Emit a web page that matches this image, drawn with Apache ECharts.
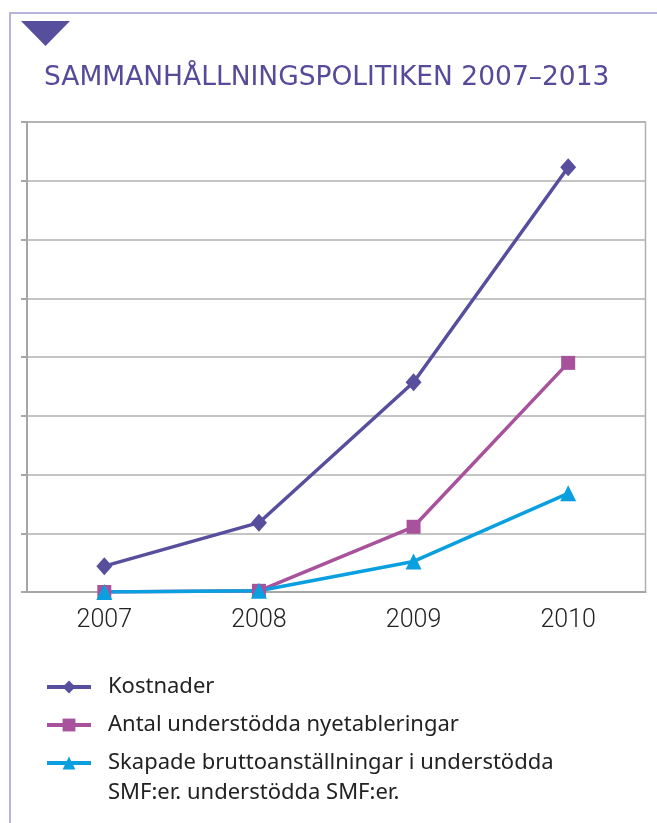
<!DOCTYPE html>
<html>
<head>
<meta charset="utf-8">
<script src="https://cdn.jsdelivr.net/npm/echarts@6/dist/echarts.min.js"></script>
<style>
  html, body { margin: 0; padding: 0; background: #fff; }
  #chart { width: 657px; height: 823px; }
</style>
</head>
<body>
<div id="chart"></div>
<script>
// years on the x axis
var years = ["2007", "2008", "2009", "2010"];
// values (no y labels in the source, scale 0..8)
var kostnader = [0.44, 1.18, 3.57, 7.23];
var nyetableringar = [0.0, 0.02, 1.11, 3.9];
var anstallningar = [0.0, 0.02, 0.52, 1.68];

var names = [
  "Kostnader",
  "Antal understödda nyetableringar",
  // leading blank line keeps the marker level with the first text line
  "\nSkapade bruttoanställningar i understödda\nSMF:er. understödda SMF:er."
];
var colors = ["#574e9d", "#a7529b", "#0aa0e0"];

var chart = echarts.init(document.getElementById("chart"));

function line(name, data, color, symbol, size) {
  return {
    name: name,
    type: "line",
    data: data,
    symbol: symbol,
    symbolSize: size,
    showSymbol: true,
    lineStyle: { color: color, width: 3.5 },
    itemStyle: { color: color },
    emphasis: { disabled: true },
    z: 3
  };
}

// one legend per entry so each row sits where it does in the picture
function legend(name, top) {
  return {
    orient: "vertical",
    left: 45,
    top: top,
    padding: 0,
    itemWidth: 44,
    itemHeight: 16,
    selectedMode: false,
    lineStyle: { width: 4 },
    textStyle: { color: "#222", fontSize: 22, fontFamily: "Noto Sans", lineHeight: 30, padding: [0, 0, 0, 12] },
    data: [name]
  };
}

chart.setOption({
  animation: false,
  textStyle: { fontFamily: "Noto Sans" },
  title: {
    text: "SAMMANHÅLLNINGSPOLITIKEN 2007–2013",
    left: 39,
    top: 60,
    textStyle: {
      color: "#564b9a",
      fontSize: 26.5,
      fontWeight: "normal",
      fontFamily: "DejaVu Sans"
    }
  },
  graphic: [
    // frame lines of the box
    { type: "line", shape: { x1: 10, y1: 12, x2: 10, y2: 823 }, style: { stroke: "#b8b5dc", lineWidth: 2 } },
    { type: "line", shape: { x1: 9, y1: 13, x2: 657, y2: 13 }, style: { stroke: "#b8b5dc", lineWidth: 2 } },
    // the little triangle
    { type: "polygon", shape: { points: [[21, 21], [70, 21], [45.5, 46]] }, style: { fill: "#574e9d" } }
  ],
  grid: {
    left: 27,
    right: 11.5,
    top: 122,
    bottom: 231,
    show: true,
    borderColor: "#b0b0b0",
    borderWidth: 1.5
  },
  legend: [
    legend(names[0], 672),
    legend(names[1], 710),
    legend(names[2], 718)
  ],
  xAxis: {
    type: "category",
    data: years,
    boundaryGap: true,
    axisLine: { lineStyle: { color: "#a6a6a6", width: 2 } },
    axisTick: { show: false },
    axisLabel: {
      color: "#222",
      fontSize: 25,
      fontWeight: 300,
      fontFamily: "Roboto",
      margin: 16
    }
  },
  yAxis: {
    type: "value",
    min: 0,
    max: 8,
    interval: 1,
    axisLine: { show: true, lineStyle: { color: "#a6a6a6", width: 2 } },
    axisTick: { show: true, length: 6, lineStyle: { color: "#a6a6a6", width: 2 } },
    axisLabel: { show: false },
    splitLine: { lineStyle: { color: "#b0b0b0", width: 1.5 } }
  },
  series: [
    line(names[0], kostnader, colors[0], "diamond", [16, 18]),
    line(names[1], nyetableringar, colors[1], "rect", 14),
    line(names[2], anstallningar, colors[2], "triangle", 16)
  ]
});
</script>
</body>
</html>
